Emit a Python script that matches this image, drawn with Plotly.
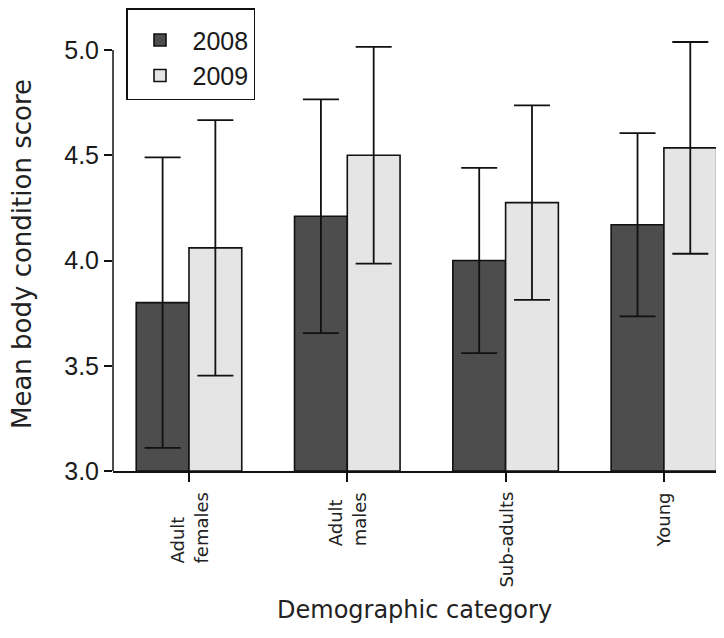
import plotly.graph_objects as go

categories = ["Adult<br>females", "Adult<br>males", "Sub-adults", "Young"]
years = ["2008", "2009"]
mean_2008 = [3.80, 4.21, 4.00, 4.17]
err_2008 = [0.69, 0.555, 0.44, 0.435]
mean_2009 = [4.06, 4.50, 4.275, 4.535]
err_2009 = [0.607, 0.515, 0.462, 0.503]
y_ticks = [3.0, 3.5, 4.0, 4.5, 5.0]

# page body has an 8px margin; figure is sized to fill the rest of the window
W, H = 716, 630
ML, MR, MT, MB = 105, 2, 0, 167
pw = W - ML - MR
ph = H - MT - MB
PX_PER_UNIT = 210.5

fig = go.Figure()
for name, means, errs, col in [(years[0], mean_2008, err_2008, "#4d4d4d"),
                               (years[1], mean_2009, err_2009, "#e5e5e5")]:
    fig.add_trace(go.Bar(
        x=categories, y=[m - 3.0 for m in means], base=3.0, name=name,
        marker=dict(color=col, line=dict(color="#111111", width=1.6)),
        error_y=dict(type="data", array=errs, visible=True, color="#111111",
                     thickness=1.8, width=18),
        hoverinfo="skip",
    ))

annotations = [
    dict(text="Demographic category", xref="paper", yref="paper",
         x=(406 - ML) / pw, y=(H - MB - 602) / ph, xanchor="center", yanchor="middle",
         showarrow=False, font=dict(family="DejaVu Sans", size=24, color="#222222")),
    dict(text="Mean body condition score", xref="paper", yref="paper",
         x=(14 - ML) / pw, y=(H - MB - 246) / ph, xanchor="center", yanchor="middle",
         textangle=-90, showarrow=False,
         font=dict(family="DejaVu Sans", size=26, color="#222222")),
]
for c in categories:
    annotations.append(dict(text=c, x=c, xref="x", yref="paper", y=0, yshift=-19,
                            xanchor="center", yanchor="top", textangle=-90, align="left",
                            showarrow=False,
                            font=dict(family="DejaVu Sans", size=18, color="#222222")))

fig.update_layout(
    width=W, height=H,
    margin=dict(l=ML, r=MR, t=MT, b=MB, pad=0),
    paper_bgcolor="white", plot_bgcolor="white",
    barmode="group", bargap=1/3, bargroupgap=0,
    showlegend=True,
    legend=dict(x=(118 - ML) / pw, y=1.0, xanchor="left", yanchor="top",
                bordercolor="#111111", borderwidth=1.5, bgcolor="white",
                itemwidth=55,
                title=dict(text=" ", font=dict(size=6)),
                font=dict(family="Liberation Sans, Arial", size=25, color="#1a1a1a"),
                tracegroupgap=0),
    xaxis=dict(type="category", range=[-0.48, 3.367], showgrid=False, zeroline=False,
               showline=True, linecolor="#111111", linewidth=1.5,
               ticks="outside", ticklen=9, tickwidth=1.5, tickcolor="#111111",
               showticklabels=False),
    yaxis=dict(range=[3.0, 3.0 + ph / PX_PER_UNIT], showgrid=False, zeroline=False,
               showline=False, tickvals=y_ticks, ticktext=[f"{v:.1f}" for v in y_ticks],
               ticks="outside", ticklen=8, tickwidth=1.5, tickcolor="#111111",
               tickfont=dict(family="Liberation Sans, Arial", size=25, color="#1a1a1a")),
    shapes=[dict(type="line", xref="paper", yref="y", x0=0, x1=0, y0=y_ticks[0], y1=y_ticks[-1],
                 line=dict(color="#111111", width=1.5))],
    annotations=annotations,
)

fig.write_html("out.html")
